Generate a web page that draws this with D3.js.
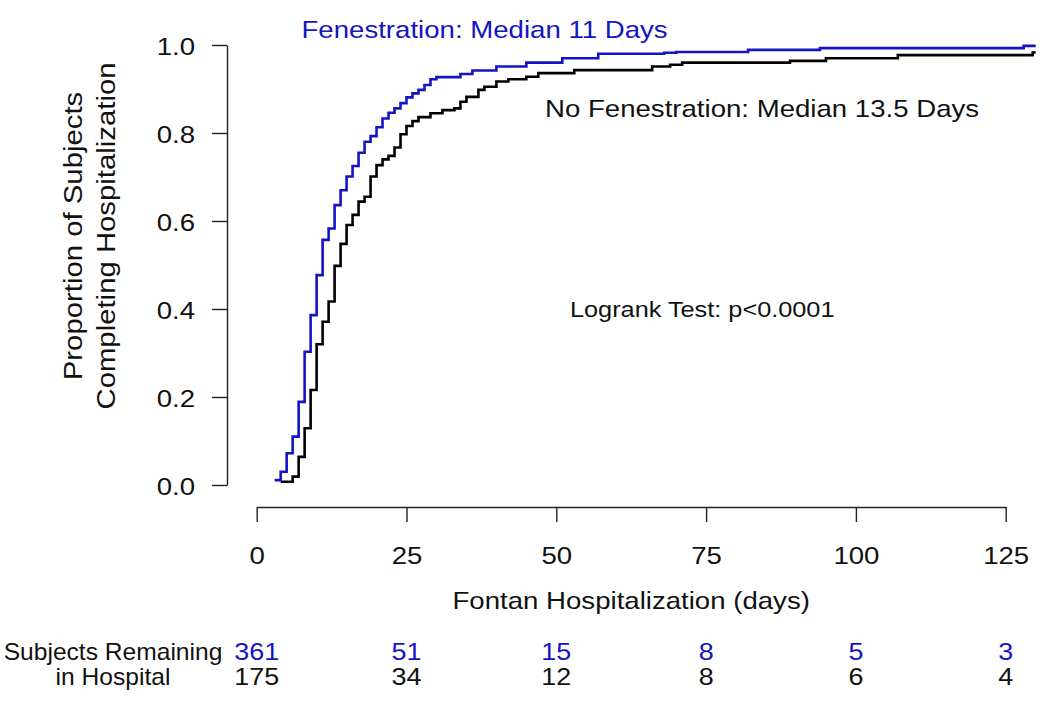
<!DOCTYPE html>
<html>
<head>
<meta charset="utf-8">
<script src="https://cdn.jsdelivr.net/npm/d3@7"></script>
<style>
  html, body { margin: 0; padding: 0; background: #fff; }
  svg { display: block; font-family: "Liberation Sans", Arial, Helvetica, sans-serif; }
</style>
</head>
<body>
<svg id="chart" width="1050" height="708"></svg>
<script>
// ---- Data ----
const fenTimes  = [3, 4, 5, 6, 7, 8, 9, 10, 11, 12, 13, 14, 15, 16, 17, 18, 19, 20, 21, 22, 23, 24, 25, 26, 27, 28, 29, 30, 34, 36, 40, 45, 51, 57, 68, 70, 82, 94, 128];
const fenValues = [0.011, 0.030, 0.072, 0.110, 0.189, 0.303, 0.386, 0.477, 0.557, 0.583, 0.636, 0.670, 0.701, 0.725, 0.755, 0.780, 0.793, 0.813, 0.833, 0.846, 0.856, 0.868, 0.881, 0.890, 0.898, 0.909, 0.922, 0.927, 0.934, 0.942, 0.951, 0.960, 0.970, 0.980, 0.9825, 0.984, 0.989, 0.993, 0.998];

const noFenTimes  = [4, 6, 7, 8, 9, 10, 11, 12, 13, 14, 15, 16, 17, 18, 19, 20, 21, 22, 23, 24, 25, 26, 27, 29, 31, 33, 34, 35, 37, 38, 40, 42, 45, 47, 53, 66, 69, 71, 89, 95, 107, 129.5];
const noFenValues = [0.0075, 0.019, 0.064, 0.129, 0.216, 0.320, 0.371, 0.417, 0.498, 0.548, 0.591, 0.614, 0.644, 0.655, 0.701, 0.727, 0.740, 0.748, 0.767, 0.797, 0.816, 0.827, 0.836, 0.845, 0.852, 0.856, 0.871, 0.882, 0.898, 0.905, 0.917, 0.922, 0.928, 0.936, 0.943, 0.951, 0.955, 0.960, 0.964, 0.970, 0.977, 0.983];

const followUpEnd = 130;
const xTicks = [0, 25, 50, 75, 100, 125];
const yTicks = [0, 0.2, 0.4, 0.6, 0.8, 1.0];
const atRiskFen   = [361, 51, 15, 8, 5, 3];
const atRiskNoFen = [175, 34, 12, 8, 6, 4];

const labels = {
  fen: "Fenestration: Median 11 Days",
  noFen: "No Fenestration: Median 13.5 Days",
  test: "Logrank Test: p<0.0001",
  xTitle: "Fontan Hospitalization (days)",
  yTitle1: "Proportion of Subjects",
  yTitle2: "Completing Hospitalization",
  risk1: "Subjects Remaining",
  risk2: "in Hospital"
};

// ---- Styling ----
const BLUE = "#1414c4";
const INK = "#111";

const svg = d3.select("#chart");
svg.append("rect").attr("width", 1050).attr("height", 708).attr("fill", "#fff");

const x = d3.scaleLinear().domain([0, 125]).range([256.7, 1005.7]);
const y = d3.scaleLinear().domain([0, 1]).range([485, 45]);

// ---- Axes ----
const SX_TICK = 1.2;
const yAxis = svg.append("g")
  .attr("transform", "translate(227,0)")
  .call(d3.axisLeft(y).tickValues(yTicks).tickFormat(d3.format(".1f")).tickSize(15).tickSizeOuter(0));
const xAxis = svg.append("g")
  .attr("transform", "translate(0,507)")
  .call(d3.axisBottom(x).tickValues(xTicks).tickFormat(d3.format("d")).tickSize(15).tickSizeOuter(0));

[yAxis, xAxis].forEach(g => {
  g.select(".domain").attr("stroke", "#222").attr("stroke-width", 1.4);
  g.selectAll(".tick line").attr("stroke", "#222").attr("stroke-width", 1.4);
  g.selectAll(".tick text").attr("fill", INK).attr("font-size", 23)
    .attr("font-family", '"Liberation Sans", Arial, sans-serif');
});
yAxis.selectAll(".tick text")
  .attr("x", -32 / SX_TICK).attr("dy", "0.42em")
  .attr("transform", `scale(${SX_TICK},1)`);
xAxis.selectAll(".tick text")
  .attr("y", 57).attr("dy", 0)
  .attr("transform", `scale(${SX_TICK},1)`);

// ---- Curves ----
function stepData(times, values) {
  const pts = times.map((t, i) => [t, values[i]]);
  pts.push([followUpEnd, values[values.length - 1]]);
  return pts;
}
const line = d3.line().x(d => x(d[0])).y(d => y(d[1])).curve(d3.curveStepAfter);

svg.append("path").datum(stepData(noFenTimes, noFenValues))
  .attr("d", line).attr("fill", "none").attr("stroke", "#000").attr("stroke-width", 2.6);
svg.append("path").datum(stepData(fenTimes, fenValues))
  .attr("d", line).attr("fill", "none").attr("stroke", BLUE).attr("stroke-width", 2.6);

// ---- Text helper ----
function txt(px, py, str, o = {}) {
  const sx = o.sx || 1.15;
  const rot = o.rotate ? ` rotate(${o.rotate})` : "";
  return svg.append("text")
    .attr("transform", `translate(${px},${py})${rot} scale(${sx},1)`)
    .attr("text-anchor", o.anchor || "start")
    .attr("font-size", o.size || 24)
    .attr("fill", o.color || INK)
    .text(str);
}

txt(301.5, 38, labels.fen, { color: BLUE });
txt(545, 117, labels.noFen);
txt(570, 317, labels.test, { size: 22, sx: 1.15 });
txt((x(0) + x(125)) / 2, 609, labels.xTitle, { anchor: "middle" });
txt(82, 236, labels.yTitle1, { anchor: "middle", rotate: -90, size: 25.5 });
txt(115, 236, labels.yTitle2, { anchor: "middle", rotate: -90, size: 25.5 });

// ---- Number at risk table ----
txt(113, 660, labels.risk1, { anchor: "middle", size: 23, sx: 1.07 });
txt(113, 685, labels.risk2, { anchor: "middle", size: 23, sx: 1.07 });

svg.append("g").selectAll("text").data(atRiskFen).join("text")
  .attr("transform", (d, i) => `translate(${x(xTicks[i])},660) scale(1.17,1)`)
  .attr("text-anchor", "middle").attr("font-size", 23).attr("fill", BLUE)
  .text(d => d);
svg.append("g").selectAll("text").data(atRiskNoFen).join("text")
  .attr("transform", (d, i) => `translate(${x(xTicks[i])},685) scale(1.17,1)`)
  .attr("text-anchor", "middle").attr("font-size", 23).attr("fill", INK)
  .text(d => d);
</script>
</body>
</html>
